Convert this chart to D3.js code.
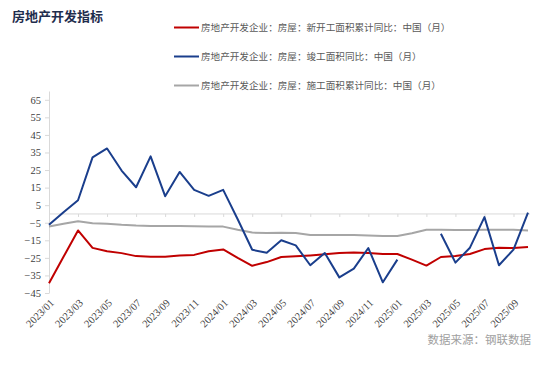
<!DOCTYPE html>
<html>
<head>
<meta charset="utf-8">
<script src="https://cdn.jsdelivr.net/npm/d3@7"></script>
<style>
  body { margin: 0; background: #fff; }
  svg { display: block; }
</style>
</head>
<body>
<div id="chart"></div>
<script>
// months 2023/01 .. 2025/10
var months = [];
for (var yr = 2023; yr <= 2025; yr++) {
  for (var m = 1; m <= 12; m++) {
    if (yr === 2025 && m > 10) break;
    months.push(yr + "/" + (m < 10 ? "0" + m : m));
  }
}

// 新开工面积累计同比
var newStart = [-39.4, -24.4, -9.4, -19.3, -21.2, -22.3, -24.0, -24.4, -24.4, -23.6, -23.3, -21.2,
  -20.2, -25.0, -29.5, -27.4, -24.5, -24.1, -23.6, -23.0, -22.2, -21.9, -22.2, -22.8,
  -22.8, -26.0, -29.4, -24.5, -24.0, -22.8, -20.0, -19.2, -19.4, -18.8];
// 竣工面积同比
var completed = [-6.2, 1.0, 7.8, 32.2, 37.3, 24.7, 15.2, 32.8, 10.1, 23.9, 13.7, 10.3,
  13.7, -3.0, -20.4, -22.1, -15.0, -17.9, -29.2, -22.2, -36.1, -31.1, -19.4, -38.9,
  -26.0, null, null, -11.3, -27.7, -19.2, -1.8, -29.2, -20.3, 0.8];
// 施工面积累计同比
var underConstr = [-7.2, -5.6, -4.1, -5.3, -5.6, -6.2, -6.6, -6.8, -6.8, -6.8, -7.0, -7.2,
  -7.2, -9.0, -10.6, -10.9, -10.7, -10.8, -12.0, -12.0, -12.0, -12.0, -12.2, -12.6,
  -12.6, -11.0, -9.0, -9.0, -9.1, -9.1, -9.0, -9.0, -9.0, -9.4];

var seriesNames = [
  "房地产开发企业：房屋：新开工面积累计同比：中国（月）",
  "房地产开发企业：房屋：竣工面积同比：中国（月）",
  "房地产开发企业：房屋：施工面积累计同比：中国（月）"
];
var yTicks = [-45, -35, -25, -15, -5, 5, 15, 25, 35, 45, 55, 65];

var colors = ["#c00000", "#1a3e8c", "#a6a6a6"];
var width = 550, height = 366;

var svg = d3.select("#chart").append("svg")
  .attr("width", width)
  .attr("height", height);

// title
svg.append("text")
  .attr("x", 12).attr("y", 21)
  .style("font-family", "'Noto Sans CJK SC'")
  .style("font-weight", "bold")
  .style("font-size", "13px")
  .style("fill", "#1f2d4d")
  .text("房地产开发指标");

// legend
var legend = svg.append("g");
seriesNames.forEach(function(name, i) {
  var ly = 27.5 + i * 29;
  legend.append("line")
    .attr("x1", 174).attr("x2", 199)
    .attr("y1", ly).attr("y2", ly)
    .attr("stroke", colors[i]).attr("stroke-width", 2);
  legend.append("text")
    .attr("x", 201).attr("y", ly)
    .attr("dy", "0.35em")
    .style("font-family", "'Noto Sans CJK SC'")
    .style("font-size", "9.6px")
    .style("fill", "#595959")
    .text(name);
});

// scales
var x = d3.scalePoint()
  .domain(d3.range(months.length))
  .range([49, 528]);

var y = d3.scaleLinear()
  .domain([-45, 70])
  .range([293, 91]);

// y axis
var yAxis = svg.append("g")
  .attr("transform", "translate(49,0)")
  .call(d3.axisLeft(y).tickValues(yTicks).tickSize(4).tickSizeOuter(0).tickPadding(4));
yAxis.select(".domain").attr("stroke", "#d9d9d9");
yAxis.selectAll(".tick line").attr("stroke", "#d9d9d9");
yAxis.selectAll("text")
  .style("font-family", "'Liberation Serif'")
  .style("font-size", "10.5px")
  .style("fill", "#404040");

// x axis at zero
var evenIdx = d3.range(0, months.length, 2);
var xAxis = svg.append("g")
  .attr("transform", "translate(0," + y(0) + ")")
  .call(d3.axisBottom(x).tickValues(evenIdx).tickSize(3).tickSizeOuter(0).tickFormat(""));
xAxis.select(".domain").attr("stroke", "#d9d9d9").attr("d", "M49,0H530");
xAxis.selectAll(".tick line").attr("stroke", "#d9d9d9");

// x labels at bottom
svg.append("g").selectAll("text")
  .data(evenIdx)
  .enter().append("text")
  .attr("transform", function(i) { return "translate(" + (x(i) + 3) + ",301) rotate(-45)"; })
  .attr("text-anchor", "end")
  .attr("dy", "0.35em")
  .style("font-family", "'Liberation Serif'")
  .style("font-size", "10.5px")
  .style("fill", "#404040")
  .text(function(i) { return months[i]; });

// lines
var line = d3.line()
  .defined(function(d) { return d != null; })
  .x(function(d, i) { return x(i); })
  .y(function(d) { return y(d); });

[underConstr, newStart, completed].forEach(function(s) {
  var ci = s === newStart ? 0 : (s === completed ? 1 : 2);
  svg.append("path")
    .datum(s)
    .attr("fill", "none")
    .attr("stroke", colors[ci])
    .attr("stroke-width", 2)
    .attr("stroke-linejoin", "round")
    .attr("d", line);
});

// source
svg.append("text")
  .attr("x", 531).attr("y", 344)
  .attr("text-anchor", "end")
  .style("font-family", "'Noto Sans CJK SC'")
  .style("font-size", "11.5px")
  .style("fill", "#a0a0a0")
  .text("数据来源：钢联数据");
</script>
</body>
</html>
